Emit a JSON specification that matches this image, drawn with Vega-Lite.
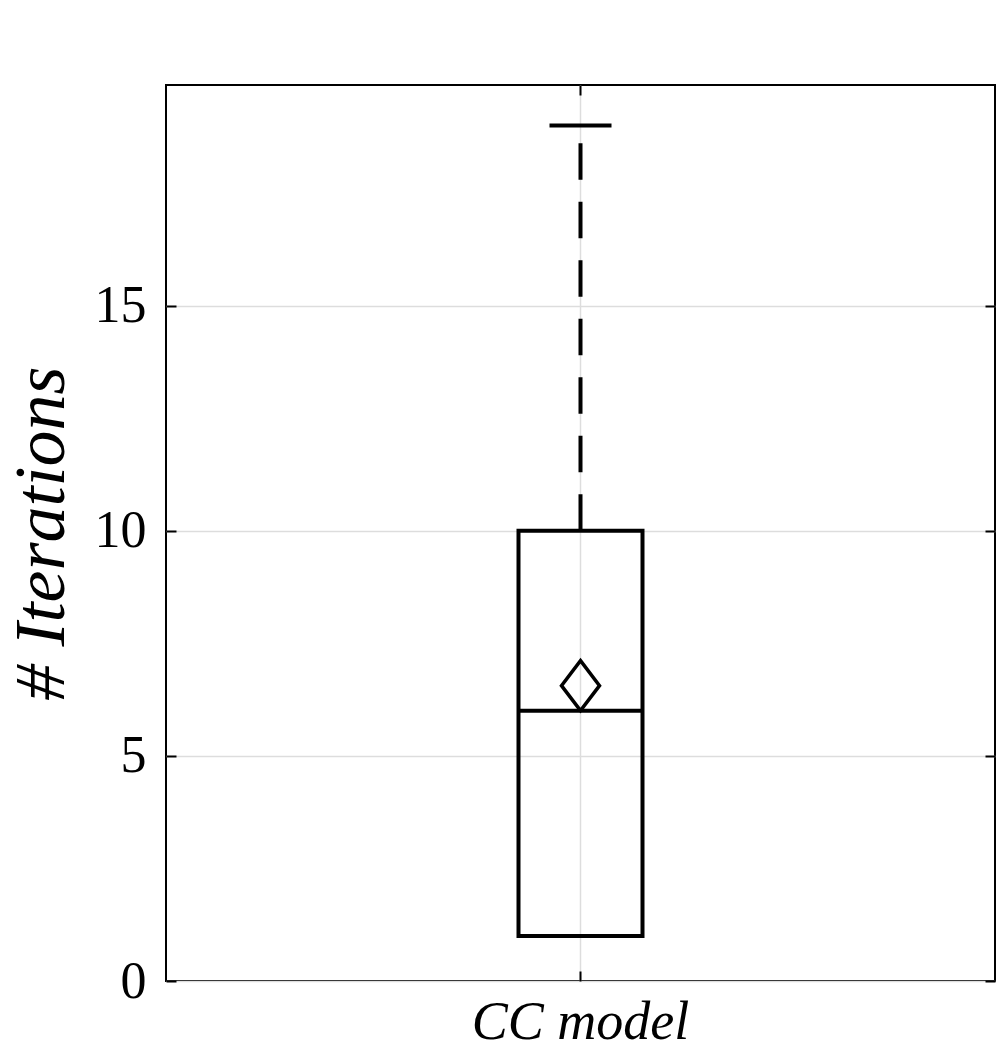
{
  "$schema": "https://vega.github.io/schema/vega-lite/v6.json",
  "width": 829,
  "height": 896,
  "autosize": {"type": "none"},
  "padding": {"left": 166, "top": 85, "right": 2, "bottom": 70},
  "background": "white",
  "config": {
    "view": {"stroke": "black", "strokeWidth": 2},
    "font": "Liberation Serif",
    "tick": {"opacity": 1}
  },
  "data": {
    "values": [
      {"model": "CC model", "lower": 1, "q1": 1, "median": 6, "q3": 10, "upper": 19, "mean": 6.56}
    ]
  },
  "resolve": {"axis": {"x": "independent", "y": "independent"}},
  "layer": [
    {
      "mark": {"type": "rule", "color": "black", "strokeWidth": 4, "strokeDash": [36.5, 22]},
      "encoding": {
        "x": {
          "field": "model", "type": "nominal",
          "scale": {"paddingInner": 0, "paddingOuter": 0},
          "axis": {
            "orient": "bottom", "title": null, "domain": false,
            "labelAngle": 0, "labelFont": "Liberation Serif", "labelFontStyle": "italic",
            "labelFontSize": 54, "labelColor": "black", "labelPadding": 24, "labelLimit": 0,
            "tickSize": -10, "tickColor": "black", "tickWidth": 2,
            "grid": true, "gridColor": "#dddddd", "gridWidth": 1.5
          }
        },
        "y": {
          "field": "q3", "type": "quantitative",
          "scale": {"domain": [0, 19.9], "nice": false, "zero": true},
          "axis": {
            "orient": "left", "values": [0, 5, 10, 15],
            "title": "# Iterations", "titleFont": "Liberation Serif", "titleFontStyle": "italic",
            "titleFontWeight": "normal", "titleFontSize": 72, "titleColor": "black", "titlePadding": 16,
            "domain": false, "labelFont": "Liberation Serif", "labelFontSize": 52, "labelColor": "black",
            "labelPadding": 30, "tickSize": -10, "tickColor": "black", "tickWidth": 2,
            "grid": true, "gridColor": "#dddddd", "gridWidth": 1.5
          }
        },
        "y2": {"field": "upper"}
      }
    },
    {
      "mark": {"type": "tick", "color": "black", "size": 62, "thickness": 4, "opacity": 1},
      "encoding": {
        "x": {"field": "model", "type": "nominal", "axis": null},
        "y": {"field": "upper", "type": "quantitative", "axis": null}
      }
    },
    {
      "mark": {"type": "bar", "fill": "white", "fillOpacity": 0, "stroke": "black", "strokeWidth": 4, "size": 124},
      "encoding": {
        "x": {"field": "model", "type": "nominal", "axis": null},
        "y": {"field": "q1", "type": "quantitative", "axis": null},
        "y2": {"field": "q3"}
      }
    },
    {
      "mark": {"type": "tick", "color": "black", "size": 124, "thickness": 4, "opacity": 1},
      "encoding": {
        "x": {"field": "model", "type": "nominal", "axis": null},
        "y": {"field": "median", "type": "quantitative", "axis": null}
      }
    },
    {
      "mark": {"type": "point", "shape": "M0,-1.316L1,0L0,1.316L-1,0Z", "size": 1444, "filled": false, "color": "black", "strokeWidth": 3.5, "opacity": 1},
      "encoding": {
        "x": {"field": "model", "type": "nominal", "axis": null},
        "y": {"field": "mean", "type": "quantitative", "axis": null}
      }
    },
    {
      "mark": {"type": "tick", "opacity": 0},
      "encoding": {
        "x": {
          "field": "model", "type": "nominal",
          "axis": {"orient": "top", "title": null, "domain": false, "labels": false, "grid": false,
                   "tickSize": -10, "tickColor": "black", "tickWidth": 2}
        },
        "y": {
          "field": "median", "type": "quantitative",
          "axis": {"orient": "right", "title": null, "domain": false, "labels": false, "grid": false,
                   "values": [0, 5, 10, 15], "tickSize": -10, "tickColor": "black", "tickWidth": 2}
        }
      }
    }
  ]
}
